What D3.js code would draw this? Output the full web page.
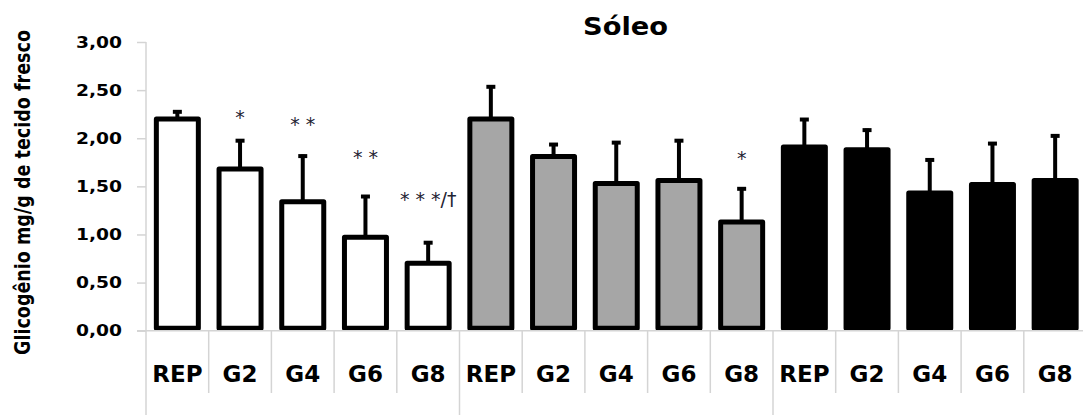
<!DOCTYPE html>
<html>
<head>
<meta charset="utf-8">
<script src="https://cdn.jsdelivr.net/npm/d3@7"></script>
<style>
  html, body { margin: 0; padding: 0; background: #fff; }
  svg { display: block; }
</style>
</head>
<body>
<svg id="chart" width="1083" height="415"></svg>
<script>
// Glycogen content in soleus muscle (mg/g of fresh tissue), three groups of five time points
const categories = ["REP", "G2", "G4", "G6", "G8"];

const meansGroup1 = [2.20, 1.68, 1.34, 0.97, 0.70];
const sdGroup1    = [0.09, 0.31, 0.49, 0.44, 0.23];

const meansGroup2 = [2.20, 1.81, 1.53, 1.56, 1.13];
const sdGroup2    = [0.35, 0.14, 0.44, 0.43, 0.36];

const meansGroup3 = [1.91, 1.88, 1.43, 1.52, 1.56];
const sdGroup3    = [0.30, 0.22, 0.36, 0.44, 0.48];

const yTicks = [0, 0.5, 1.0, 1.5, 2.0, 2.5, 3.0];

// Significance marks: group index, category index, text, baseline level on the value axis
const marks = [
  { g: 0, c: 1, text: "*",        level: 2.15 },
  { g: 0, c: 2, text: "* *",      level: 2.08 },
  { g: 0, c: 3, text: "* *",      level: 1.73 },
  { g: 0, c: 4, text: "* * */\u2020", level: 1.30 },
  { g: 1, c: 4, text: "*",        level: 1.72 }
];

const groupFills = ["#ffffff", "#a6a6a6", "#000000"];
const groups = [
  { means: meansGroup1, sd: sdGroup1 },
  { means: meansGroup2, sd: sdGroup2 },
  { means: meansGroup3, sd: sdGroup3 }
];

// flat list of bars
const bars = [];
groups.forEach((grp, gi) => {
  categories.forEach((cat, ci) => {
    bars.push({ key: gi + "-" + ci, cat, gi, ci, mean: grp.means[ci], sd: grp.sd[ci] });
  });
});

const svg = d3.select("#chart");
const W = 1083, H = 415;
const axisX = 146, band = 62.7;
const yTop = 42, yBottom = 330.7;
const gridColor = "#d4d4d4";
const font = "'DejaVu Sans', Verdana, sans-serif";

const x = d3.scaleBand()
  .domain(bars.map(d => d.key))
  .range([axisX, axisX + band * bars.length])
  .paddingInner(0).paddingOuter(0);

const y = d3.scaleLinear().domain([0, 3]).range([yBottom, yTop]);

svg.append("rect").attr("width", W).attr("height", H).attr("fill", "#fff");

// title
svg.append("text")
  .attr("x", 625.5).attr("y", 35)
  .attr("text-anchor", "middle")
  .attr("font-family", font).attr("font-weight", "bold")
  .attr("font-size", 24)
  .attr("textLength", 85).attr("lengthAdjust", "spacingAndGlyphs")
  .attr("fill", "#000")
  .text("S\u00f3leo");

// y axis
const yAxis = d3.axisLeft(y)
  .tickValues(yTicks)
  .tickSize(9)
  .tickPadding(15)
  .tickFormat(d => d3.format(".2f")(d).replace(".", ","));

const gAxis = svg.append("g")
  .attr("transform", `translate(${axisX},0)`)
  .call(yAxis);
gAxis.select(".domain").remove();
gAxis.selectAll(".tick line").attr("stroke", gridColor).attr("stroke-width", 1.5);
gAxis.selectAll(".tick text")
  .attr("font-family", font).attr("font-weight", "bold")
  .attr("font-size", 16).attr("fill", "#000")
  .attr("textLength", 46).attr("lengthAdjust", "spacingAndGlyphs");

// vertical axis line running to the bottom of the category area
svg.append("line")
  .attr("x1", axisX).attr("x2", axisX)
  .attr("y1", yTop).attr("y2", H)
  .attr("stroke", gridColor).attr("stroke-width", 1.5);

// category separators
const bounds = d3.range(1, bars.length);
svg.append("g").selectAll("line")
  .data(bounds)
  .join("line")
  .attr("x1", i => x.range()[0] + i * x.step())
  .attr("x2", i => x.range()[0] + i * x.step())
  .attr("y1", yBottom)
  .attr("y2", i => (i % categories.length === 0) ? H : 393)
  .attr("stroke", gridColor).attr("stroke-width", 1.5);

// error bars (upper only)
const eb = svg.append("g");
eb.selectAll("line.err")
  .data(bars)
  .join("line")
  .attr("class", "err")
  .attr("x1", d => x(d.key) + x.bandwidth() / 2)
  .attr("x2", d => x(d.key) + x.bandwidth() / 2)
  .attr("y1", d => y(d.mean))
  .attr("y2", d => y(d.mean + d.sd))
  .attr("stroke", "#000").attr("stroke-width", 4);
eb.selectAll("line.cap")
  .data(bars)
  .join("line")
  .attr("class", "cap")
  .attr("x1", d => x(d.key) + x.bandwidth() / 2 - 4.5)
  .attr("x2", d => x(d.key) + x.bandwidth() / 2 + 4.5)
  .attr("y1", d => y(d.mean + d.sd) + 1.5)
  .attr("y2", d => y(d.mean + d.sd) + 1.5)
  .attr("stroke", "#000").attr("stroke-width", 4);

// bars
const barW = 42;
svg.append("g").selectAll("rect")
  .data(bars)
  .join("rect")
  .attr("x", d => x(d.key) + x.bandwidth() / 2 - barW / 2)
  .attr("y", d => y(d.mean))
  .attr("width", barW)
  .attr("height", d => y(0) - 2.5 - y(d.mean))
  .attr("fill", d => groupFills[d.gi])
  .attr("stroke", "#000")
  .attr("stroke-width", 5)
  .attr("stroke-linejoin", "round");

// baseline
svg.append("line")
  .attr("x1", axisX - 9).attr("x2", W)
  .attr("y1", yBottom).attr("y2", yBottom)
  .attr("stroke", gridColor).attr("stroke-width", 1.5);

// category labels
svg.append("g").selectAll("text")
  .data(bars)
  .join("text")
  .attr("x", d => x(d.key) + x.bandwidth() / 2)
  .attr("y", 382)
  .attr("text-anchor", "middle")
  .attr("font-family", font).attr("font-weight", "bold")
  .attr("font-size", 23).attr("fill", "#000")
  .text(d => d.cat);

// significance marks
svg.append("g").selectAll("text")
  .data(marks)
  .join("text")
  .attr("x", d => x(d.g + "-" + d.c) + x.bandwidth() / 2)
  .attr("y", d => y(d.level))
  .attr("text-anchor", "middle")
  .attr("font-family", font)
  .attr("font-size", 19).attr("fill", "#1f2433")
  .text(d => d.text);

// y axis title
svg.append("text")
  .attr("transform", "translate(30,192.5) rotate(-90) scale(1,1.35)")
  .attr("text-anchor", "middle")
  .attr("font-family", font).attr("font-weight", "bold")
  .attr("font-size", 16).attr("fill", "#000")
  .attr("textLength", 325).attr("lengthAdjust", "spacingAndGlyphs")
  .text("Glicog\u00eanio mg/g de tecido fresco");
</script>
</body>
</html>
